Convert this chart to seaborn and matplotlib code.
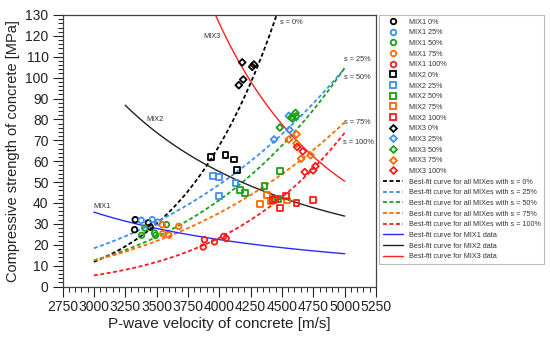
import numpy as np
import pandas as pd
import matplotlib
matplotlib.use("Agg")
import matplotlib.pyplot as plt
from matplotlib.lines import Line2D
from matplotlib.ticker import MultipleLocator
import seaborn as sns

sns.set_theme(style="ticks")
plt.rcParams['font.family'] = ['Liberation Sans', 'DejaVu Sans']

# ---------------- data ----------------
s_levels = ['0%', '25%', '50%', '75%', '100%']
s_colors = ['#000000', '#3d8ef5', '#18a018', '#ff6a00', '#ff1a1a']

# MIX1 (circles)
mix1_x = [
    [3330, 3435, 3325, 3450],
    [3378, 3465, 3510],
    [3406, 3380, 3484, 3492, 3579],
    [3545, 3550, 3598, 3677],
    [3882, 3872, 3962, 4036, 4055],
]
mix1_y = [
    [32.0, 30.5, 27.2, 28.4],
    [31.7, 32.0, 30.8],
    [28.0, 24.5, 25.6, 24.5, 29.6],
    [29.6, 25.3, 24.6, 28.8],
    [22.4, 18.9, 21.4, 24.0, 23.0],
]
# MIX2 (squares)
mix2_x = [
    [3936, 4050, 4116, 4143],
    [3952, 3996, 4130, 3996],
    [4169, 4204, 4361, 4488, 4467],
    [4323, 4382, 4409, 4542],
    [4430, 4448, 4488, 4534, 4616, 4750],
]
mix2_y = [
    [62.0, 62.8, 60.8, 55.6],
    [53.1, 52.4, 49.7, 43.2],
    [46.4, 44.8, 48.0, 55.2, 42.1],
    [39.7, 43.6, 40.8, 41.2],
    [41.6, 41.9, 37.7, 43.3, 40.1, 41.6],
]
# MIX3 (diamonds)
mix3_x = [
    [4183, 4263, 4276, 4191, 4156],
    [4555, 4437, 4560],
    [4608, 4574, 4586, 4613, 4483],
    [4616, 4555, 4616, 4653, 4728],
    [4621, 4666, 4682, 4749, 4767],
]
mix3_y = [
    [107.3, 105.2, 106.3, 99.1, 96.4],
    [81.7, 70.4, 75.0],
    [83.1, 80.9, 80.4, 81.5, 76.1],
    [72.9, 70.4, 68.4, 61.2, 62.8],
    [66.8, 64.7, 54.8, 55.6, 57.6],
]

# best-fit power curves for all MIXes: y = y3000 * (V/3000)^n
all_y3000 = [11.8, 18.3, 12.5, 12.5, 5.3]
all_exp = [6.06, 3.41, 4.16, 3.60, 5.15]
all_range = (3000, 5000)

# best-fit power curves for each MIX: y = yref * (V/xref)^n
mix_names = ['MIX1', 'MIX2', 'MIX3']
mix_line_colors = ['#2a2aff', '#222222', '#ff2020']
mix_xref = [3000, 3250, 5000]
mix_yref = [35.6, 86.8, 50.4]
mix_exp = [-1.603, -2.196, -4.107]
mix_start = [3000, 3250, 3900]
mix_end = [5000, 5000, 5000]

# ---------------- figure ----------------
fig = plt.figure(figsize=(5.5, 3.41), dpi=100)
ax = fig.add_axes([62.5 / 550, 1 - 286.5 / 341, (376 - 62.5) / 550, (286.5 - 15) / 341])

dash = (0, (2.2, 1.4))

# curves for all mixes
for lvl, c, y0, n in zip(s_levels, s_colors, all_y3000, all_exp):
    v = np.linspace(all_range[0], all_range[1], 200)
    df = pd.DataFrame({'V': v, 'fc': y0 * (v / 3000.0) ** n})
    sns.lineplot(data=df, x='V', y='fc', ax=ax, color=c, lw=1.3,
                 linestyle=dash, legend=False, sort=False)

# curves for each mix
for name, c, xr, yr, n, a, b in zip(mix_names, mix_line_colors, mix_xref, mix_yref,
                                     mix_exp, mix_start, mix_end):
    v = np.linspace(a, b, 200)
    df = pd.DataFrame({'V': v, 'fc': yr * (v / xr) ** n})
    sns.lineplot(data=df, x='V', y='fc', ax=ax, color=c, lw=1.0,
                 legend=False, sort=False)

# scatter points
def scatter_group(xs, ys, marker, size):
    for lvl, c, x, y in zip(s_levels, s_colors, xs, ys):
        df = pd.DataFrame({'V': x, 'fc': y})
        sns.scatterplot(data=df, x='V', y='fc', ax=ax, marker=marker, s=size,
                        color=c, legend=False, zorder=5)
        pc = ax.collections[-1]
        pc.set_facecolor('none')
        pc.set_edgecolor(c)
        pc.set_linewidth(1.3)

scatter_group(mix1_x, mix1_y, 'o', 16)
scatter_group(mix2_x, mix2_y, 's', 18)
scatter_group(mix3_x, mix3_y, 'D', 12)

# annotations
tcol = '#333333'
tfs = 5.3
ax.text(3000, 38.1, 'MIX1', fontsize=tfs, color=tcol, ha='left', va='center')
ax.text(3420, 80.0, 'MIX2', fontsize=tfs, color=tcol, ha='left', va='center')
ax.text(3877, 119.9, 'MIX3', fontsize=tfs, color=tcol, ha='left', va='center')
ax.text(4483, 126.3, 's = 0%', fontsize=tfs, color=tcol, ha='left', va='center')
ax.text(4995, 108.7, 's = 25%', fontsize=tfs, color=tcol, ha='left', va='center', clip_on=False)
ax.text(4995, 100.1, 's = 50%', fontsize=tfs, color=tcol, ha='left', va='center', clip_on=False)
ax.text(4995, 78.5, 's = 75%', fontsize=tfs, color=tcol, ha='left', va='center', clip_on=False)
ax.text(4990, 68.9, 's = 100%', fontsize=tfs, color=tcol, ha='left', va='center', clip_on=False)

# axes
ax.set_xlim(2750, 5250)
ax.set_ylim(0, 130)
ax.xaxis.set_major_locator(MultipleLocator(250))
ax.xaxis.set_minor_locator(MultipleLocator(50))
ax.yaxis.set_major_locator(MultipleLocator(10))
ax.yaxis.set_minor_locator(MultipleLocator(2))
ax.tick_params(which='major', direction='out', length=7, width=0.8, labelsize=10,
               colors='#222222', pad=3, top=False, right=False)
ax.tick_params(which='minor', direction='out', length=3.8, width=0.7,
               colors='#222222', top=False, right=False)
for sp in ax.spines.values():
    sp.set_visible(True)
    sp.set_linewidth(0.9)
    sp.set_color('#444444')
ax.set_xlabel('P-wave velocity of concrete [m/s]', fontsize=11, color='#222222', labelpad=2)
ax.set_ylabel('Compressive strength of concrete [MPa]', fontsize=10.5, color='#222222', labelpad=4)

# legend
handles, labels = [], []
for mname, mk, ms in [('MIX1', 'o', 4), ('MIX2', 's', 4), ('MIX3', 'D', 3.5)]:
    for lvl, c in zip(s_levels, s_colors):
        handles.append(Line2D([], [], ls='none', marker=mk, ms=ms, mfc='none', mec=c, mew=1.3))
        labels.append(f'{mname} {lvl}')
for lvl, c in zip(s_levels, s_colors):
    handles.append(Line2D([], [], color=c, lw=1.3, ls=dash))
    labels.append(f'Best-fit curve for all MIXes with s = {lvl}')
for name, c in zip(mix_names, mix_line_colors):
    handles.append(Line2D([], [], color=c, lw=1.0))
    labels.append(f'Best-fit curve for {name} data')

leg = fig.legend(handles, labels, loc='upper left', bbox_to_anchor=(379 / 550, 1 - 15 / 341),
                 bbox_transform=fig.transFigure, fontsize=5.2, frameon=True, fancybox=False,
                 edgecolor='#bbbbbb', framealpha=1, handlelength=2.8, handletextpad=0.8,
                 labelspacing=0.5, borderpad=0.5, borderaxespad=0)
leg.get_frame().set_linewidth(0.8)
for t in leg.get_texts():
    t.set_color('#333333')

fig.savefig('out.png', dpi=100)
